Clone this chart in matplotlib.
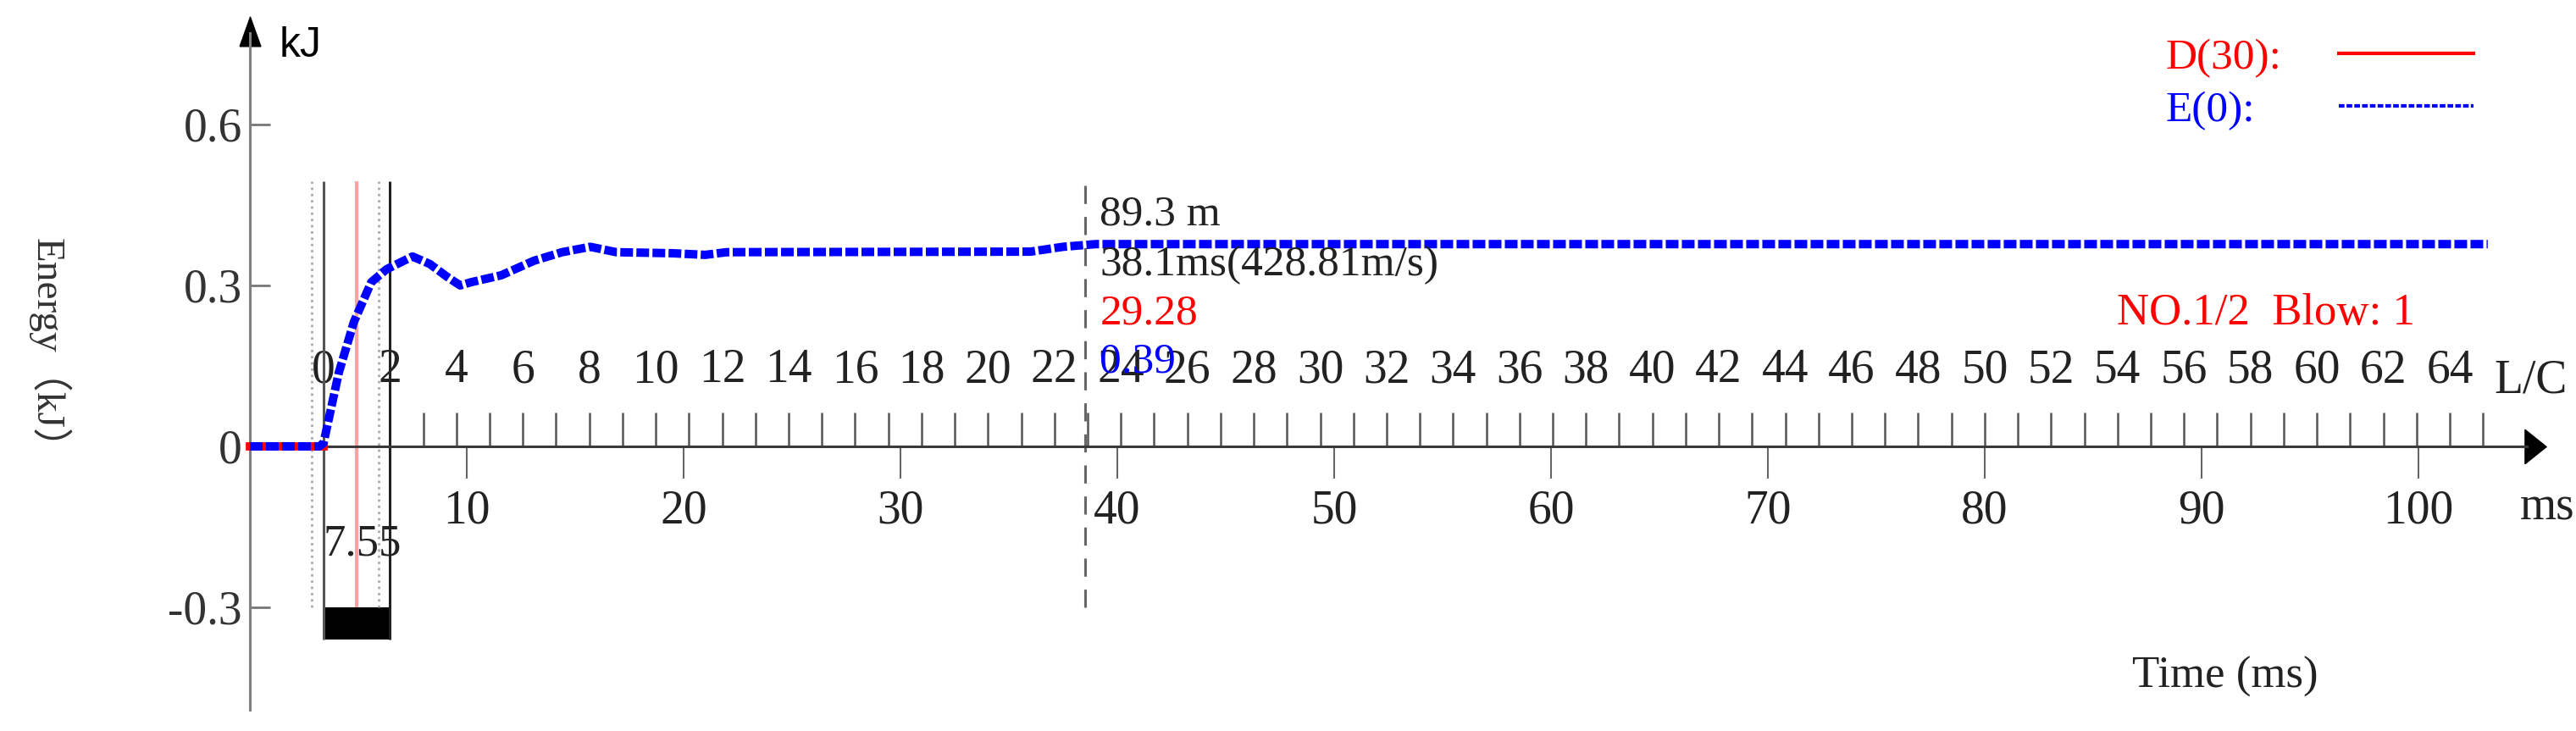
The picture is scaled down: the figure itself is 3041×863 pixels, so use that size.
import numpy as np
import matplotlib
matplotlib.use("Agg")
import matplotlib.pyplot as plt
from matplotlib.lines import Line2D

plt.rcParams['font.family'] = ['Liberation Serif', 'Noto Sans CJK SC']

# energy trace E(0) (ms, kJ)
time_ms = [0, 3.2, 3.4, 4.1, 4.8, 5.6, 6.3, 7.5, 8.3, 9.1, 9.7, 10.2, 11.6, 13.1,
           14.4, 15.7, 16.9, 19.5, 21.0, 22.0, 36.0, 37.5, 39.0, 103.2]
energy_kj = [0, 0, 0.006, 0.137, 0.232, 0.306, 0.330, 0.354, 0.340, 0.316, 0.300,
             0.306, 0.319, 0.346, 0.362, 0.372, 0.362, 0.360, 0.357, 0.362, 0.363,
             0.372, 0.377, 0.377]
# D(30) trace, only visible under the baseline
d_time_ms = [0, 3.4]
d_energy_kj = [0, 0]

# axes ticks
ms_ticks = [10, 20, 30, 40, 50, 60, 70, 80, 90, 100]
y_ticks = [-0.3, 0, 0.3, 0.6]
y_labels = ['-0.3', '0', '0.3', '0.6']
lc_ticks = np.arange(0, 66)
lc_start_ms = 3.40      # L/C = 0
lc_step_ms = 1.532      # one L/C in ms

# markers / readouts
cursor_ms = 38.5
cursor_texts = ['89.3 m', '38.1ms(428.81m/s)', '29.28', '0.39']
cursor_colors = ['#222222', '#222222', 'red', 'blue']
window_value = '7.55'
blow_text = 'NO.1/2  Blow: 1'
series_names = ['D(30):', 'E(0):']


def lc_to_ms(lc):
    return lc_start_ms + lc_step_ms * np.asarray(lc, dtype=float)


fig = plt.figure(figsize=(30.41, 8.63), dpi=100)
ax = fig.add_axes([0, 0, 1, 1])
ax.set_xlim(-11.52, 107.27)
ax.set_ylim(-0.5306, 0.8321)

# axis lines through the origin
ax.spines['right'].set_visible(False)
ax.spines['left'].set_position(('data', 0))
ax.spines['bottom'].set_position(('data', 0))
ax.spines['top'].set_position(('data', 0))
ax.spines['top'].set_visible(False)
ax.spines['left'].set_bounds(-0.491, 0.77)
ax.spines['bottom'].set_bounds(0, 105.0)
ax.spines['left'].set_color('#808080')
ax.spines['left'].set_linewidth(2.2)
ax.spines['bottom'].set_color('#3a3a3a')
ax.spines['bottom'].set_linewidth(2.2)

up_head = [(-0.714, -1), (0, 1), (0.714, -1), (-0.714, -1)]
right_head = [(-0.625, -1), (0.625, 0), (-0.625, 1), (-0.625, -1)]
ax.plot([0], [0.773], marker=up_head, markersize=25, color='black', clip_on=False)
ax.plot([105.38], [0], marker=right_head, markersize=29, color='black', clip_on=False)

# y ticks
ax.set_yticks(y_ticks, labels=y_labels)
ax.tick_params(axis='y', direction='in', length=17, width=2, color='#777777',
               pad=6.5, labelsize=40, left=True, right=False, labelcolor='#333333')

# ms ticks (below) and L/C ticks (above)
ax.xaxis.remove_overlapping_locs = False
ax.set_xticks(ms_ticks, labels=[str(v) for v in ms_ticks])
lc_labels = [str(k) if k % 2 == 0 and k <= 64 else '' for k in lc_ticks]
ax.set_xticks(lc_to_ms(lc_ticks), labels=lc_labels, minor=True)
ax.tick_params(axis='x', which='major', direction='out', length=27, width=1.5,
               color='#666666', pad=9.4, labelsize=40, bottom=True, top=False,
               labelbottom=True, labeltop=False, labelcolor='#222222')
ax.tick_params(axis='x', which='minor', direction='out', length=29, width=1.8,
               color='#555555', pad=17, labelsize=40, bottom=False, top=True,
               labelbottom=False, labeltop=True, labelcolor='#222222')

# window lines around the impact
ax.vlines(lc_to_ms([-0.36, 1.66]), -0.30, 0.494, colors='#aaaaaa', linestyles=':',
          linewidth=2)
ax.vlines(lc_to_ms([0]), -0.36, 0.494, colors='#555555', linewidth=2.2)
ax.vlines(lc_to_ms([2]), -0.36, 0.494, colors='#222222', linewidth=2.2)
ax.vlines(lc_to_ms([1]), -0.30, 0.494, colors='#f5a3a3', linewidth=3)
ax.bar(lc_to_ms(0), 0.06, bottom=-0.36, width=float(lc_to_ms(2) - lc_to_ms(0)),
       align='edge', color='black')
ax.text(float(lc_to_ms(0)), -0.182, window_value, fontsize=38, ha='left', va='center',
        color='#222222')

# cursor
ax.vlines([cursor_ms], -0.30, 0.488, colors='#666666', linestyles=(0, (7, 5)),
          linewidth=2.2)
for txt, col, yv in zip(cursor_texts, cursor_colors, [0.433, 0.338, 0.248, 0.158]):
    ax.text(39.2, yv, txt, fontsize=37, color=col, ha='left', va='center', zorder=5)

# traces
ax.plot(d_time_ms, d_energy_kj, color='red', linewidth=7, zorder=3)
ax.plot(time_ms, energy_kj, color='blue', linewidth=7.2, linestyle=(0, (1.5, 0.4)),
        zorder=4)

# labels
ax.text(1.37, 0.747, 'kJ', fontsize=36, family='Liberation Sans', ha='left',
        va='center')
ax.text(-9.26, 0.174, 'Energy（kJ）', fontsize=34, rotation=-90, ha='center',
        va='center', color='#333333')
ax.text(91.1, -0.43, 'Time (ms)', fontsize=38, ha='center', va='center',
        color='#222222')
ax.text(103.5, 0.101, 'L/C', fontsize=40, ha='left', va='baseline', color='#222222')
ax.text(104.7, -0.115, 'ms', fontsize=40, ha='left', va='center', color='#222222')
ax.text(86.1, 0.248, blow_text, fontsize=38, color='red', ha='left', va='center')

# legend: text first, then the line sample
handles = [Line2D([], [], color='red', linewidth=3),
           Line2D([], [], color='blue', linewidth=3, linestyle=(0, (1.6, 0.6)))]
leg = ax.legend(handles, series_names, loc='upper left',
                bbox_to_anchor=(2557 / 3041, 1 - 45 / 863),
                bbox_transform=fig.transFigure, markerfirst=False,
                labelcolor=['red', 'blue'], frameon=False, fontsize=37,
                handlelength=3.1, handletextpad=1.3, labelspacing=0.3, borderpad=0,
                borderaxespad=0)

# left-align the labels and line the samples up
fig.canvas.draw()
renderer = fig.canvas.get_renderer()
column = leg._legend_handle_box.get_children()[0]
column.align = 'left'
widths = [t.get_window_extent(renderer).width for t in leg.get_texts()]
for row, w in zip(column.get_children(), widths):
    row.sep += (max(widths) - w) * 72 / fig.dpi

fig.savefig('out.png', dpi=100)
